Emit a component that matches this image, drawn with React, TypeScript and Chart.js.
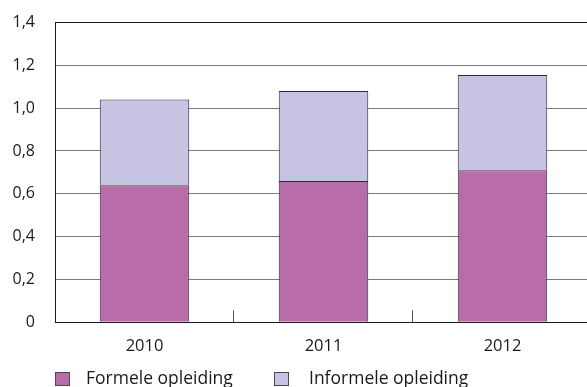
import React, { useEffect, useRef } from "react";
import { Chart, registerables } from "chart.js";

Chart.register(...registerables);

const categories = ["2010", "2011", "2012"];
const formeleOpleiding = [0.64, 0.66, 0.71];
const informeleOpleiding = [0.4, 0.42, 0.445];
const seriesNames = ["Formele opleiding", "Informele opleiding"];
const seriesColors = ["#B86CAA", "#C6C4E2"];
const yMin = 0;
const yMax = 1.4;
const yStep = 0.2;

const FONT = "'Open Sans', 'Noto Sans', sans-serif";

const categoryTicksPlugin = {
  id: "categoryTicks",
  afterDraw(chart: any) {
    const x = chart.scales.x;
    const area = chart.chartArea;
    const ctx = chart.ctx;
    ctx.save();
    ctx.strokeStyle = "#555555";
    ctx.lineWidth = 1;
    for (let i = 1; i < categories.length; i++) {
      const px = Math.round((x.getPixelForTick(i - 1) + x.getPixelForTick(i)) / 2) - 0.5;
      ctx.beginPath();
      ctx.moveTo(px, area.bottom - 12);
      ctx.lineTo(px, area.bottom);
      ctx.stroke();
    }
    ctx.restore();
  },
};

export default function App() {
  const ref = useRef<HTMLCanvasElement | null>(null);

  useEffect(() => {
    if (!ref.current) return;
    const chart = new Chart(ref.current, {
      type: "bar",
      data: {
        labels: categories,
        datasets: [
          {
            label: seriesNames[0],
            data: formeleOpleiding,
            backgroundColor: seriesColors[0],
            borderColor: "#2a2a33",
            borderWidth: 1,
          },
          {
            label: seriesNames[1],
            data: informeleOpleiding,
            backgroundColor: seriesColors[1],
            borderColor: "#2a2a33",
            borderWidth: 1,
          },
        ],
      },
      options: {
        animation: false,
        responsive: false,
        maintainAspectRatio: false,
        layout: { padding: { top: 22.5, right: 8, left: 0, bottom: 0 } },
        datasets: {
          bar: { barPercentage: 0.5, categoryPercentage: 1 },
        },
        plugins: {
          legend: { display: false },
          tooltip: { enabled: false },
        },
        scales: {
          x: {
            stacked: true,
            grid: { display: false, drawTicks: false },
            border: { display: false },
            ticks: {
              color: "#1a1a1a",
              padding: 14,
              font: { family: FONT, size: 16.5 },
            },
            afterFit(scale: any) {
              scale.height = 387 - 322.3;
            },
          },
          y: {
            stacked: true,
            min: yMin,
            max: yMax,
            grid: {
              drawTicks: false,
              color: (c: any) => {
                const v = c.tick ? c.tick.value : 0;
                return Math.abs(v) < 1e-9 || Math.abs(v - yMax) < 1e-9 ? "#1a1a1a" : "#7a7a7a";
              },
              lineWidth: 1,
            },
            border: { display: true, color: "#1a1a1a", width: 1 },
            ticks: {
              stepSize: yStep,
              padding: 20,
              color: "#1a1a1a",
              font: { family: FONT, size: 16 },
              callback: (v: any) => {
                const n = Number(v);
                if (Math.abs(n) < 1e-9) return "0";
                return n.toFixed(1).replace(".", ",");
              },
            },
            afterFit(scale: any) {
              scale.width = 55;
              scale.paddingTop = 0;
              scale.paddingBottom = 0;
            },
          },
        },
      },
      plugins: [categoryTicksPlugin],
    });
    return () => chart.destroy();
  }, []);

  const legendItem = (i: number, left: number, textOffset: number) => (
    <div key={i} style={{ position: "absolute", left, top: 369, height: 18 }}>
      <div
        style={{
          position: "absolute",
          left: 0,
          top: 3,
          width: 13,
          height: 12,
          background: seriesColors[i],
          border: "1px solid #4a4a55",
        }}
      />
      <span
        style={{
          position: "absolute",
          left: textOffset,
          top: 0,
          whiteSpace: "nowrap",
          fontFamily: FONT,
          fontSize: 17.5,
          lineHeight: "17px",
          color: "#1a1a1a",
        }}
      >
        {seriesNames[i]}
      </span>
    </div>
  );

  return (
    <div
      style={{
        position: "absolute",
        left: 0,
        top: 0,
        width: 587,
        height: 387,
        overflow: "hidden",
        background: "#ffffff",
      }}
    >
      <canvas ref={ref} width={600} height={387} style={{ display: "block" }} />
      {legendItem(0, 55, 31)}
      {legendItem(1, 274, 35)}
    </div>
  );
}
